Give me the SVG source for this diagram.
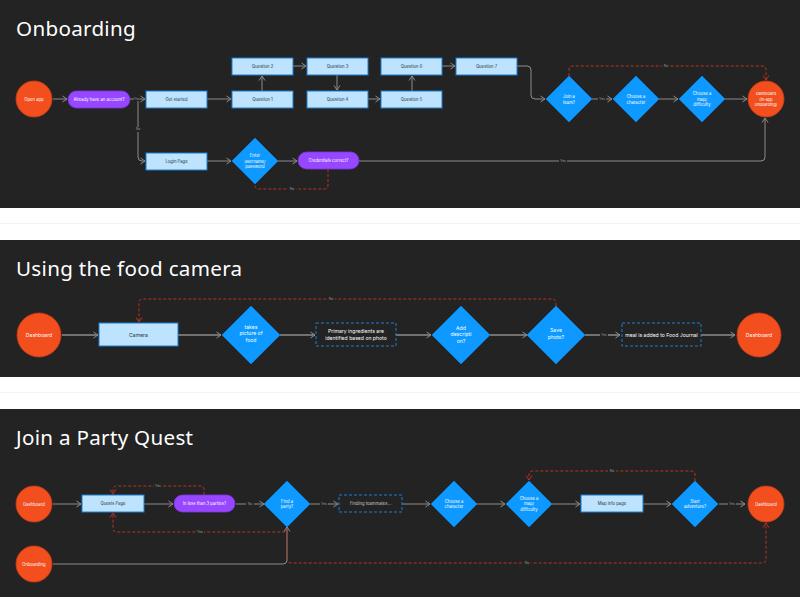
<svg xmlns="http://www.w3.org/2000/svg" width="800" height="599" viewBox="0 0 800 599">
<style>
.bg{fill:#232323}
.title{font-family:"Noto Sans",sans-serif;font-size:20.6px;fill:#ffffff;letter-spacing:0.3px}
.circ{fill:#f24e1e;stroke:#c63d15;stroke-width:0.8}
.dia{fill:#0d99ff;stroke:#0b82dc;stroke-width:0.8}
.box{fill:#bde3ff;stroke:#1a7fd0;stroke-width:1}
.pill{fill:#9747ff;stroke:#7c34e0;stroke-width:0.8}
.dbox{fill:#232323;stroke:#1a7fd0;stroke-width:1;stroke-dasharray:3 2}
.t{font-family:"Inter","Liberation Sans",sans-serif;font-size:4.2px;text-anchor:middle}
.t5{font-size:5.1px}
.w{fill:#ffffff}
.d{fill:#2a3440}
.g{fill:#c8c8c8}
.c{fill:none;stroke:#8c8c8c;stroke-width:1;marker-end:url(#a)}
.c2{stroke-width:1.3}
.r{fill:none;stroke:#b8341f;stroke-width:1;stroke-dasharray:3 2;marker-end:url(#ar)}
.rn{fill:none;stroke:#b8341f;stroke-width:1;stroke-dasharray:3 2}
.lb{font-family:"Inter","Liberation Sans",sans-serif;font-size:3.4px;fill:#9a9a9a;text-anchor:middle}
.lbb{fill:#232323}
</style>
<defs>
<marker id="a" viewBox="0 0 6 8" refX="5.5" refY="4" markerWidth="6" markerHeight="8" markerUnits="userSpaceOnUse" orient="auto"><path d="M1,1 L5.5,4 L1,7" fill="none" stroke="#8c8c8c" stroke-width="1"/></marker>
<marker id="ar" viewBox="0 0 6 8" refX="5.5" refY="4" markerWidth="6" markerHeight="8" markerUnits="userSpaceOnUse" orient="auto"><path d="M1,1 L5.5,4 L1,7" fill="none" stroke="#b8341f" stroke-width="1"/></marker>
</defs>
<rect x="0" y="0" width="800" height="599" fill="#ffffff"/>
<rect class="bg" x="0" y="0" width="800" height="208"/>
<line x1="0" y1="223.5" x2="800" y2="223.5" stroke="#fbeeee" stroke-width="1"/>
<rect class="bg" x="0" y="240" width="800" height="137"/>
<line x1="0" y1="392.5" x2="800" y2="392.5" stroke="#fbf0ea" stroke-width="1"/>
<rect class="bg" x="0" y="409" width="800" height="188"/>

<text class="title" x="16" y="36">Onboarding</text>
<text class="title" x="16" y="276">Using the food camera</text>
<text class="title" x="16" y="445">Join a Party Quest</text>

<!-- ===== Connectors ===== -->
<g id="connectors">
  <!-- Onboarding -->
  <path class="c" d="M53,99 H67"/>
  <path class="c" d="M130,99 H145"/>
  <path class="c" d="M138,99 V157 Q138,161 142,161 H145"/>
  <path class="c" d="M207,99 H231"/>
  <path class="c" d="M262,91 V76"/>
  <path class="c" d="M293,66 H306"/>
  <path class="c" d="M337,75 V90"/>
  <path class="c" d="M368,99 H380"/>
  <path class="c" d="M412,91 V76"/>
  <path class="c" d="M442,66 H455"/>
  <path class="c" d="M517,66 H527 Q531,66 531,70 V95 Q531,99 535,99 H545"/>
  <path class="c" d="M592,99 H612"/>
  <path class="c" d="M659,99 H678"/>
  <path class="c" d="M725,99 H747"/>
  <path class="r" d="M569,76 V70 Q569,66 573,66 H762 Q766,66 766,70 V80"/>
  <path class="c" d="M207,161 H231"/>
  <path class="c" d="M278,161 H297"/>
  <path class="rn" d="M328,169 V185 Q328,189 324,189 H259 Q255,189 255,185 V184"/>
  <path class="c" d="M359,161 H761 Q765,161 765,157 V118"/>
  <!-- Food camera -->
  <path class="c c2" d="M62,335 H98"/>
  <path class="c c2" d="M178,335 H221"/>
  <path class="c c2" d="M280,335 H315"/>
  <path class="c c2" d="M396,335 H431"/>
  <path class="c c2" d="M490,335 H527"/>
  <path class="c c2" d="M585,335 H620"/>
  <path class="c c2" d="M701,335 H735"/>
  <path class="r" d="M556,306 V303 Q556,299 552,299 H143 Q139,299 139,303 V322"/>
  <!-- Party quest -->
  <path class="c" d="M53,504 H81"/>
  <path class="c" d="M144,504 H173"/>
  <path class="c" d="M236,504 H264"/>
  <path class="c" d="M310,504 H338"/>
  <path class="c" d="M402,504 H430"/>
  <path class="c" d="M477,504 H505"/>
  <path class="c" d="M552,504 H580"/>
  <path class="c" d="M643,504 H671"/>
  <path class="c" d="M719,504 H745"/>
  <path class="r" d="M204,495 V490 Q204,486 200,486 H117 Q113,486 113,490 V494"/>
  <path class="r" d="M287,527 V528 Q287,532 283,532 H117 Q113,532 113,528 V513"/>
  <path class="c" d="M53,564 H283 Q287,564 287,560 V527"/>
  <path class="r" d="M287,528 V559 Q287,563 291,563 H762 Q766,563 766,559 V523"/>
  <path class="r" d="M695,481 V475 Q695,471 691,471 H533 Q529,471 529,475 V480"/>
  <!-- labels -->
  <g>
    <rect class="lbb" x="134" y="97" width="6" height="4"/><text class="lb" x="137" y="100.2">Yes</text>
    <rect class="lbb" x="135" y="127" width="6" height="5"/><text class="lb" x="138" y="130.2">No</text>
    <rect class="lbb" x="598" y="97" width="8" height="4"/><text class="lb" x="602" y="100.2">Yes</text>
    <rect class="lbb" x="662" y="64" width="8" height="4"/><text class="lb" x="666" y="67.2">No</text>
    <rect class="lbb" x="288" y="187" width="8" height="4"/><text class="lb" x="292" y="190.2">No</text>
    <rect class="lbb" x="559" y="159" width="8" height="4"/><text class="lb" x="563" y="162.2">Yes</text>
    <rect class="lbb" x="327" y="297" width="8" height="4"/><text class="lb" x="331" y="300.2">No</text>
    <rect class="lbb" x="600" y="333" width="8" height="4"/><text class="lb" x="604" y="336.2">Yes</text>
    <rect class="lbb" x="246" y="502" width="8" height="4"/><text class="lb" x="250" y="505.2">No</text>
    <rect class="lbb" x="320" y="502" width="8" height="4"/><text class="lb" x="324" y="505.2">Yes</text>
    <rect class="lbb" x="728" y="502" width="8" height="4"/><text class="lb" x="732" y="505.2">Yes</text>
    <rect class="lbb" x="154" y="484" width="8" height="4"/><text class="lb" x="158" y="487.2">Yes</text>
    <rect class="lbb" x="196" y="530" width="8" height="4"/><text class="lb" x="200" y="533.2">Yes</text>
    <rect class="lbb" x="523" y="561" width="8" height="4"/><text class="lb" x="527" y="564.2">No</text>
    <rect class="lbb" x="608" y="469" width="8" height="4"/><text class="lb" x="612" y="472.2">No</text>
  </g>
</g>

<!-- ===== Onboarding nodes ===== -->
<g id="ob-open"><circle class="circ" cx="34" cy="99" r="18"/><text class="t w" x="34" y="100.5">Open app</text></g>
<g id="ob-account"><rect class="pill" x="68" y="91" width="62" height="17" rx="8.5"/><text class="t w" x="99" y="101">Already have an account?</text></g>
<g id="ob-getstarted"><rect class="box" x="146" y="91" width="61" height="17"/><text class="t d" x="176.5" y="101">Get started</text></g>
<g id="ob-login"><rect class="box" x="146" y="153" width="61" height="17"/><text class="t d" x="176.5" y="163">Login Page</text></g>
<g id="ob-q1"><rect class="box" x="232" y="91" width="61" height="17"/><text class="t d" x="262.5" y="101">Question 1</text></g>
<g id="ob-q2"><rect class="box" x="232" y="58" width="61" height="17"/><text class="t d" x="262.5" y="68">Question 2</text></g>
<g id="ob-q3"><rect class="box" x="307" y="58" width="61" height="17"/><text class="t d" x="337.5" y="68">Question 3</text></g>
<g id="ob-q4"><rect class="box" x="307" y="91" width="61" height="17"/><text class="t d" x="337.5" y="101">Question 4</text></g>
<g id="ob-q5"><rect class="box" x="381" y="91" width="61" height="17"/><text class="t d" x="411.5" y="101">Question 5</text></g>
<g id="ob-q6"><rect class="box" x="381" y="58" width="61" height="17"/><text class="t d" x="411.5" y="68">Question 6</text></g>
<g id="ob-q7"><rect class="box" x="456" y="58" width="61" height="17"/><text class="t d" x="486.5" y="68">Question 7</text></g>
<g id="ob-team"><path class="dia" d="M569,76 L592,99 L569,122 L546,99 Z"/><text class="t w" x="569" y="98">Join a</text><text class="t w" x="569" y="103.5">team?</text></g>
<g id="ob-char"><path class="dia" d="M636,76 L659,99 L636,122 L613,99 Z"/><text class="t w" x="636" y="98">Choose a</text><text class="t w" x="636" y="103.5">character</text></g>
<g id="ob-map"><path class="dia" d="M702,76 L725,99 L702,122 L679,99 Z"/><text class="t w" x="702" y="95">Choose a</text><text class="t w" x="702" y="100.5">map/</text><text class="t w" x="702" y="106">difficulty</text></g>
<g id="ob-dashboard"><circle class="circ" cx="766" cy="99" r="18"/><text class="t w" x="766" y="95" style="font-size:3.9px">Dashboard</text><text class="t w" x="766" y="100.5" style="font-size:3.9px">(in-app</text><text class="t w" x="766" y="106" style="font-size:3.9px">onboarding)</text></g>
<g id="ob-enter"><path class="dia" d="M255,138 L278,161 L255,184 L232,161 Z"/><text class="t w" x="255" y="157">Enter</text><text class="t w" x="255" y="162.5">username/</text><text class="t w" x="255" y="168">password</text></g>
<g id="ob-cred"><rect class="pill" x="298" y="152" width="61" height="17" rx="8.5"/><text class="t w" x="328.5" y="162">Credentials correct?</text></g>

<!-- ===== Food camera nodes ===== -->
<g id="fc-dashboard1"><circle class="circ" cx="39" cy="335" r="22"/><text class="t t5 w" x="39" y="336.8">Dashboard</text></g>
<g id="fc-camera"><rect class="box" x="99" y="323" width="79" height="23"/><text class="t t5 d" x="138.5" y="336.5">Camera</text></g>
<g id="fc-takes"><path class="dia" d="M251,306 L280,335 L251,364 L222,335 Z"/><text class="t t5 w" x="251" y="328.5">takes</text><text class="t t5 w" x="251" y="335">picture of</text><text class="t t5 w" x="251" y="341.5">food</text></g>
<g id="fc-ingredients"><rect class="dbox" x="316" y="323" width="80" height="23"/><text class="t t5 w" x="356" y="333">Primary ingredients are</text><text class="t t5 w" x="356" y="340">identified based on photo</text></g>
<g id="fc-desc"><path class="dia" d="M461,306 L490,335 L461,364 L432,335 Z"/><text class="t t5 w" x="461" y="329.5">Add</text><text class="t t5 w" x="461" y="336">descripti</text><text class="t t5 w" x="461" y="342.5">on?</text></g>
<g id="fc-save"><path class="dia" d="M556,306 L585,335 L556,364 L527,335 Z"/><text class="t t5 w" x="556" y="332">Save</text><text class="t t5 w" x="556" y="338.5">photo?</text></g>
<g id="fc-meal"><rect class="dbox" x="622" y="323" width="79" height="23"/><text class="t t5 w" x="661.5" y="336.5">meal is added to Food Journal</text></g>
<g id="fc-dashboard2"><circle class="circ" cx="759" cy="335" r="22"/><text class="t t5 w" x="759" y="336.8">Dashboard</text></g>

<!-- ===== Party quest nodes ===== -->
<g id="pq-dashboard1"><circle class="circ" cx="34" cy="504" r="18"/><text class="t w" x="34" y="505.5">Dashboard</text></g>
<g id="pq-onboarding"><circle class="circ" cx="34" cy="564" r="18"/><text class="t w" x="34" y="565.5">Onboarding</text></g>
<g id="pq-quests"><rect class="box" x="82" y="495" width="62" height="17"/><text class="t d" x="113" y="505">Quests Page</text></g>
<g id="pq-less"><rect class="pill" x="174" y="495" width="61" height="17" rx="8.5"/><text class="t w" x="204.5" y="505">In less than 3 parties?</text></g>
<g id="pq-find"><path class="dia" d="M287,481 L310,504 L287,527 L264,504 Z"/><text class="t w" x="287" y="502.5">Find a</text><text class="t w" x="287" y="508">party?</text></g>
<g id="pq-finding"><rect class="dbox" x="339" y="495" width="63" height="17"/><text class="t g" x="370.5" y="505">Finding teammates...</text></g>
<g id="pq-char"><path class="dia" d="M454,481 L477,504 L454,527 L431,504 Z"/><text class="t w" x="454" y="502.5">Choose a</text><text class="t w" x="454" y="508">character</text></g>
<g id="pq-map"><path class="dia" d="M529,481 L552,504 L529,527 L506,504 Z"/><text class="t w" x="529" y="499.5">Choose a</text><text class="t w" x="529" y="505">map/</text><text class="t w" x="529" y="510.5">difficulty</text></g>
<g id="pq-mapinfo"><rect class="box" x="581" y="495" width="62" height="17"/><text class="t d" x="612" y="505">Map info page</text></g>
<g id="pq-start"><path class="dia" d="M695,481 L718,504 L695,527 L672,504 Z"/><text class="t w" x="695" y="502.5">Start</text><text class="t w" x="695" y="508">adventure?</text></g>
<g id="pq-dashboard2"><circle class="circ" cx="766" cy="504" r="18"/><text class="t w" x="766" y="505.5">Dashboard</text></g>
</svg>
